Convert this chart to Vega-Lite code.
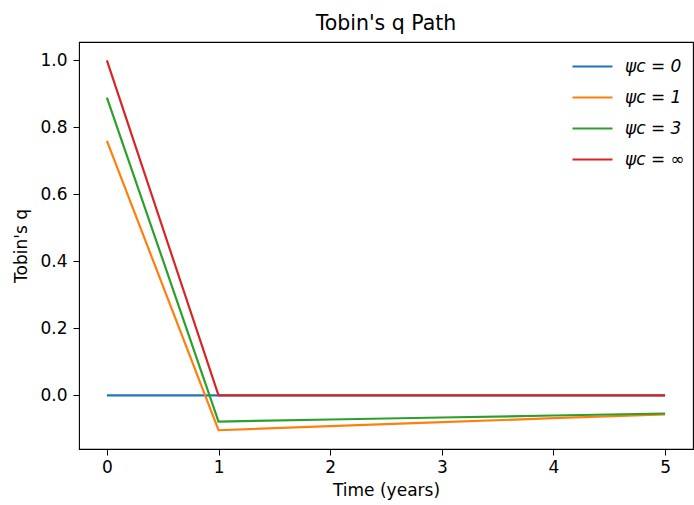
{
  "$schema": "https://vega.github.io/schema/vega-lite/v6.json",
  "width": 614,
  "height": 407,
  "autosize": {"type": "none"},
  "padding": {"left": 79, "top": 42, "right": 1, "bottom": 56},
  "background": "white",
  "title": {"text": "Tobin's q Path", "fontSize": 20.5, "font": "DejaVu Sans", "fontWeight": "normal", "offset": 8, "color": "black"},
  "config": {
    "view": {"stroke": "black", "strokeWidth": 1.1},
    "font": "DejaVu Sans"
  },
  "data": {"values": [
    {"t": 0, "q": 0, "s": "ψc = 0"},
    {"t": 1, "q": 0, "s": "ψc = 0"},
    {"t": 2, "q": 0, "s": "ψc = 0"},
    {"t": 3, "q": 0, "s": "ψc = 0"},
    {"t": 4, "q": 0, "s": "ψc = 0"},
    {"t": 5, "q": 0, "s": "ψc = 0"},
    {"t": 0, "q": 0.760, "s": "ψc = 1"},
    {"t": 1, "q": -0.104, "s": "ψc = 1"},
    {"t": 2, "q": -0.092, "s": "ψc = 1"},
    {"t": 3, "q": -0.080, "s": "ψc = 1"},
    {"t": 4, "q": -0.068, "s": "ψc = 1"},
    {"t": 5, "q": -0.057, "s": "ψc = 1"},
    {"t": 0, "q": 0.889, "s": "ψc = 3"},
    {"t": 1, "q": -0.078, "s": "ψc = 3"},
    {"t": 2, "q": -0.072, "s": "ψc = 3"},
    {"t": 3, "q": -0.066, "s": "ψc = 3"},
    {"t": 4, "q": -0.060, "s": "ψc = 3"},
    {"t": 5, "q": -0.054, "s": "ψc = 3"},
    {"t": 0, "q": 1.0, "s": "ψc = ∞"},
    {"t": 1, "q": 0, "s": "ψc = ∞"},
    {"t": 2, "q": 0, "s": "ψc = ∞"},
    {"t": 3, "q": 0, "s": "ψc = ∞"},
    {"t": 4, "q": 0, "s": "ψc = ∞"},
    {"t": 5, "q": 0, "s": "ψc = ∞"}
  ]},
  "mark": {"type": "line", "strokeWidth": 2.2, "clip": true},
  "encoding": {
    "x": {"field": "t", "type": "quantitative",
      "scale": {"domain": [-0.25, 5.25], "nice": false, "zero": false},
      "axis": {"title": "Time (years)", "values": [0, 1, 2, 3, 4, 5], "format": "d", "grid": false,
        "domain": false, "tickColor": "black", "tickSize": 6, "labelFontSize": 17, "labelColor": "black",
        "titleFontSize": 17, "titleFontWeight": "normal", "titleColor": "black", "titlePadding": 7, "labelPadding": 4}},
    "y": {"field": "q", "type": "quantitative",
      "scale": {"domain": [-0.16, 1.055], "nice": false, "zero": false},
      "axis": {"title": "Tobin's q", "values": [0, 0.2, 0.4, 0.6, 0.8, 1.0], "format": ".1f", "grid": false,
        "domain": false, "tickColor": "black", "tickSize": 6, "labelFontSize": 17, "labelColor": "black",
        "titleFontSize": 17, "titleFontWeight": "normal", "titleColor": "black", "titlePadding": 9, "labelPadding": 6}},
    "color": {"field": "s", "type": "nominal",
      "scale": {"domain": ["ψc = 0", "ψc = 1", "ψc = 3", "ψc = ∞"], "range": ["#1f77b4", "#ff7f0e", "#2ca02c", "#d62728"]},
      "legend": {"title": null, "orient": "top-right", "offset": 8, "padding": 0, "symbolType": "M-1.333,0H1.333", "symbolSize": 900,
        "symbolStrokeWidth": 2.2, "labelFontSize": 17, "labelFontStyle": "italic", "labelColor": "black", "rowPadding": 6, "labelOffset": 16}}
  }
}
